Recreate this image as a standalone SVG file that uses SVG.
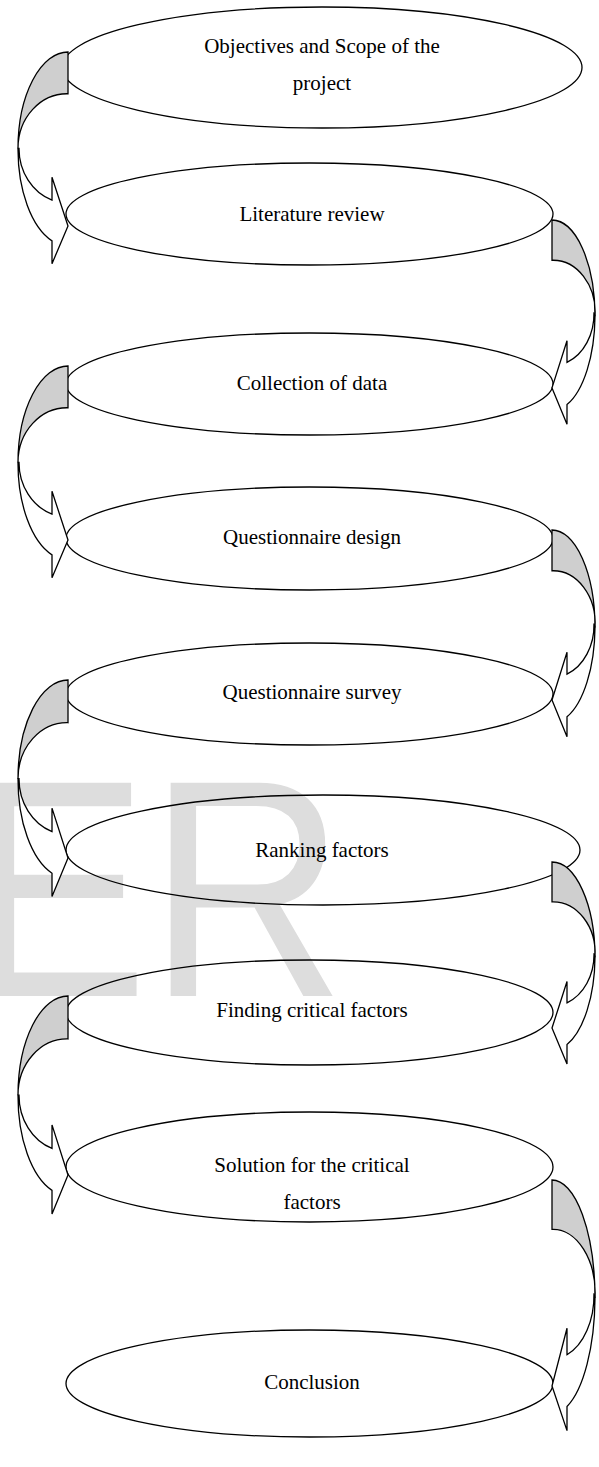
<svg xmlns="http://www.w3.org/2000/svg" xmlns:xlink="http://www.w3.org/1999/xlink" width="599" height="1467" viewBox="0 0 599 1467">
<defs>
<style>
.ell{fill:none;stroke:#000;stroke-width:1.3}
.lbl{font-family:"Liberation Serif","Times New Roman",serif;font-size:21px;fill:#000;text-anchor:middle}
.ab{fill:#cfcfcf;stroke:#000;stroke-width:1.3;stroke-linejoin:miter;vector-effect:non-scaling-stroke}
.af{fill:#fff;stroke:#000;stroke-width:1.3;stroke-linejoin:miter;vector-effect:non-scaling-stroke}
.wm{font-family:"Liberation Sans",Arial,sans-serif;font-size:310px;fill:#dddddd}
</style>
<g id="la">
<path class="ab" d="M68,0 A50,97 0 0 0 18,97 A49,55 0 0 1 68,42 Z"/>
<path class="af" d="M19,97 A49,55 0 0 0 52,149 L52,126 L68,175 L52,213 L52,190 A50,97 0 0 1 18,97 Z"/>
</g>
<g id="ra">
<path class="ab" d="M552,0 A43,98 0 0 1 595,98 A42,53 0 0 0 552,41 Z"/>
<path class="af" d="M594,94 A42,53 0 0 1 567,145 L567,123 L552,171 L567,208 L567,188 A43,98 0 0 0 595,98 Z"/>
</g>
</defs>
<rect width="599" height="1467" fill="#fff"/>
<text class="wm" x="-38.3" y="996" transform="scale(0.88,1)">ER</text>

<g id="n1"><ellipse class="ell" cx="322" cy="67.5" rx="260" ry="60.5"/>
<text class="lbl" x="322" y="53">Objectives and Scope of the</text>
<text class="lbl" x="322" y="90">project</text></g>
<g id="n2"><ellipse class="ell" cx="309.5" cy="214" rx="243.5" ry="51"/>
<text class="lbl" x="312" y="221">Literature review</text></g>
<g id="n3"><ellipse class="ell" cx="309.5" cy="384" rx="243.5" ry="51"/>
<text class="lbl" x="312" y="390">Collection of data</text></g>
<g id="n4"><ellipse class="ell" cx="309.5" cy="538.5" rx="243.5" ry="51.5"/>
<text class="lbl" x="312" y="544">Questionnaire design</text></g>
<g id="n5"><ellipse class="ell" cx="309.5" cy="694" rx="243.5" ry="51"/>
<text class="lbl" x="312" y="699">Questionnaire survey</text></g>
<g id="n6"><ellipse class="ell" cx="323" cy="850" rx="257" ry="55"/>
<text class="lbl" x="322" y="857">Ranking factors</text></g>
<g id="n7"><ellipse class="ell" cx="309.5" cy="1012.5" rx="243.5" ry="52.5"/>
<text class="lbl" x="312" y="1017">Finding critical factors</text></g>
<g id="n8"><ellipse class="ell" cx="309.5" cy="1167" rx="243.5" ry="55"/>
<text class="lbl" x="312" y="1172">Solution for the critical</text>
<text class="lbl" x="312" y="1209">factors</text></g>
<g id="n9"><ellipse class="ell" cx="309.5" cy="1383.5" rx="243.5" ry="53.5"/>
<text class="lbl" x="312" y="1389">Conclusion</text></g>

<g id="connectors">
<use xlink:href="#la" transform="translate(0,52) scale(1,0.994)"/>
<use xlink:href="#la" transform="translate(0,366) scale(1,0.994)"/>
<use xlink:href="#la" transform="translate(0,680) scale(1,1.017)"/>
<use xlink:href="#la" transform="translate(0,996) scale(1,1.023)"/>
<use xlink:href="#ra" transform="translate(0,220) scale(1,0.982)"/>
<use xlink:href="#ra" transform="translate(0,530) scale(1,0.994)"/>
<use xlink:href="#ra" transform="translate(0,862) scale(1,0.971)"/>
<use xlink:href="#ra" transform="translate(0,1180) scale(1,1.205)"/>
</g>
</svg>
